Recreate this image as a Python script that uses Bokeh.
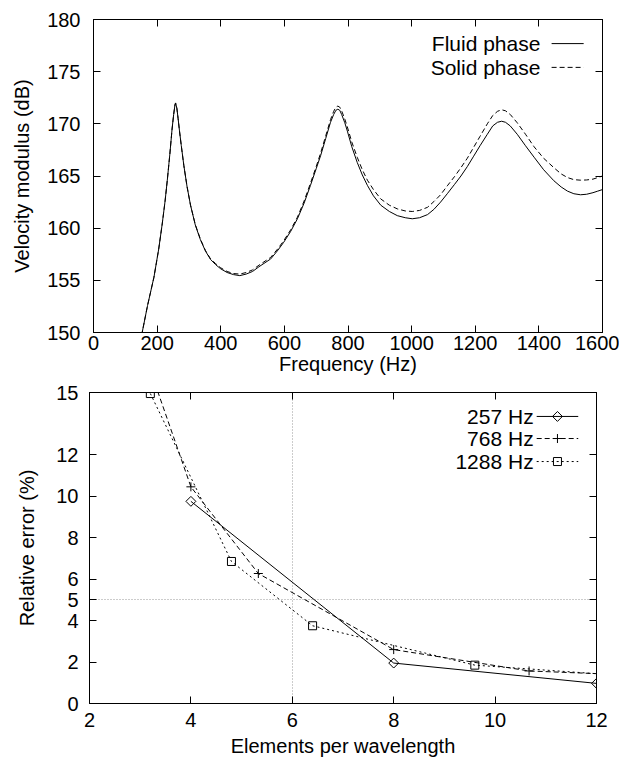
from bokeh.plotting import figure
from bokeh.layouts import column, row
from bokeh.models import LinearAxis, FixedTicker, Range1d, Label
from bokeh.embed import file_html
from bokeh.resources import INLINE

FONT = "Liberation Sans"
TICK_FS = "20px"
TITLE_FS = "20px"
LEG_FS = "21px"

# ---------------- data: top chart ----------------
freq = [140, 153, 170, 190, 205, 216, 225, 232, 240, 247, 252, 256, 258, 262, 266,
        270, 276, 284, 294, 305, 320, 336, 352, 368, 384, 400, 420, 440, 460, 480,
        500, 520, 557, 580, 598, 620, 641, 662, 682, 700, 714, 730, 745, 755, 762,
        768, 774, 780, 790, 798, 812, 829, 845, 861, 880, 903, 930, 955, 980, 1002,
        1025, 1050, 1070, 1091, 1112, 1135, 1155, 1175, 1195, 1215, 1238, 1255, 1270,
        1283, 1295, 1310, 1332, 1358, 1385, 1415, 1447, 1470, 1490, 1510, 1531, 1550,
        1570, 1585, 1600]
fluid_db = [148.2, 150.0, 152.6, 155.3, 158.0, 160.4, 162.6, 164.6, 167.1, 169.5,
            170.9, 171.8, 172.0, 171.5, 170.5, 169.4, 167.9, 166.0, 164.0, 162.2,
            160.3, 158.9, 157.8, 157.0, 156.5, 156.1, 155.75, 155.55, 155.45, 155.6,
            155.85, 156.3, 157.05, 157.9, 158.65, 159.7, 160.9, 162.4, 164.1, 165.7,
            166.96, 168.6, 170.15, 170.9, 171.3, 171.4, 171.3, 170.9, 170.1, 169.3,
            167.8, 166.3, 165.1, 164.1, 163.1, 162.2, 161.6, 161.2, 161.0, 160.9,
            161.0, 161.3, 161.8, 162.5, 163.3, 164.2, 165.0, 165.9, 166.9, 167.9,
            169.0, 169.8, 170.15, 170.25, 170.15, 169.8, 169.0, 167.9, 166.8, 165.6,
            164.55, 163.95, 163.55, 163.3, 163.2, 163.25, 163.4, 163.55, 163.7]
solid_db = [148.2, 150.0, 152.6, 155.3, 158.0, 160.4, 162.6, 164.6, 167.1, 169.5,
            170.9, 171.8, 172.0, 171.5, 170.5, 169.4, 167.9, 166.0, 164.0, 162.2,
            160.35, 158.95, 157.85, 157.05, 156.6, 156.2, 155.85, 155.65, 155.6, 155.75,
            156.0, 156.45, 157.2, 158.05, 158.8, 159.85, 161.05, 162.6, 164.3, 165.9,
            167.2, 168.85, 170.4, 171.2, 171.6, 171.7, 171.6, 171.25, 170.45, 169.7,
            168.25, 166.8, 165.6, 164.6, 163.7, 162.8, 162.2, 161.85, 161.65, 161.6,
            161.7, 162.0, 162.55, 163.2, 164.05, 164.95, 165.8, 166.7, 167.75, 168.8,
            170.0, 170.8, 171.2, 171.35, 171.25, 170.9, 170.1, 169.0, 167.8, 166.7,
            165.8, 165.2, 164.85, 164.65, 164.6, 164.62, 164.7, 164.85, 165.0]
freq_ticks = [0, 200, 400, 600, 800, 1000, 1200, 1400, 1600]
db_ticks = [150, 155, 160, 165, 170, 175, 180]

# ---------------- data: bottom chart ----------------
epw_257 = [4.0, 8.0, 12.0]
err_257 = [9.75, 1.95, 0.97]
epw_768 = [2.67, 4.0, 5.33, 8.0, 10.67, 16.0]
err_768 = [19.8, 10.45, 6.27, 2.6, 1.57, 1.05]
epw_1288 = [3.2, 4.8, 6.4, 9.6, 12.8]
err_1288 = [14.95, 6.85, 3.75, 1.85, 1.3]
epw_ticks = [2, 4, 6, 8, 10, 12]
err_ticks = [0, 2, 4, 5, 6, 8, 10, 12, 15]


def style_axis(ax, labels=True):
    ax.major_tick_in = 7
    ax.major_tick_out = 0
    ax.minor_tick_in = 0
    ax.minor_tick_out = 0
    ax.axis_line_color = "black"
    ax.major_tick_line_color = "black"
    ax.major_label_text_font = FONT
    ax.major_label_text_color = "black"
    ax.major_label_text_font_size = TICK_FS if labels else "0px"
    if not labels:
        ax.major_label_standoff = 0
    ax.axis_label_text_font = FONT
    ax.axis_label_text_font_size = TITLE_FS
    ax.axis_label_text_font_style = "normal"
    ax.axis_label_text_color = "black"


def frac(r, f):
    return r.start + f * (r.end - r.start)


# ================= top figure =================
p1 = figure(width=619, height=380, output_backend="svg", toolbar_location=None,
            x_range=Range1d(0, 1600), y_range=Range1d(150, 180),
            min_border_left=93, min_border_right=17, min_border_top=19,
            min_border_bottom=48)
p1.outline_line_color = "black"
p1.outline_line_alpha = 1
p1.xgrid.grid_line_color = None
p1.ygrid.grid_line_color = None

p1.xaxis.ticker = FixedTicker(ticks=freq_ticks)
p1.yaxis.ticker = FixedTicker(ticks=db_ticks)
p1.xaxis.axis_label = "Frequency (Hz)"
p1.yaxis.axis_label = "Velocity modulus (dB)"
style_axis(p1.xaxis[0])
style_axis(p1.yaxis[0])
p1.xaxis.major_label_standoff = 3
p1.xaxis.axis_label_standoff = 0
p1.yaxis.major_label_standoff = 13
p1.yaxis.axis_label_standoff = 11

top1 = LinearAxis(ticker=FixedTicker(ticks=freq_ticks))
style_axis(top1, labels=False)
p1.add_layout(top1, "above")
right1 = LinearAxis(ticker=FixedTicker(ticks=db_ticks))
style_axis(right1, labels=False)
p1.add_layout(right1, "right")

p1.line(freq, fluid_db, line_color="black", line_width=1)
p1.line(freq, solid_db, line_color="black", line_width=1, line_dash="5 3")

# legend (gnuplot style: text right-aligned, sample to its right)
xr, yr = p1.x_range, p1.y_range
for name, dash, fy in [("Fluid phase", "solid", 0.923), ("Solid phase", "5 3", 0.847)]:
    yy = frac(yr, fy)
    p1.add_layout(Label(x=frac(xr, 0.878), y=yy, text=name, text_align="right",
                        text_baseline="middle", text_font=FONT,
                        text_font_size=LEG_FS, text_color="black"))
    p1.line([frac(xr, 0.90), frac(xr, 0.963)], [yy, yy], line_color="black",
            line_width=1, line_dash=dash)

# ================= bottom figure =================
p2 = figure(width=619, height=381, output_backend="svg", toolbar_location=None,
            x_range=Range1d(2, 12), y_range=Range1d(0, 15),
            min_border_left=89, min_border_right=23, min_border_top=12,
            min_border_bottom=58)
p2.outline_line_color = "black"
p2.outline_line_alpha = 1
p2.xaxis.ticker = FixedTicker(ticks=epw_ticks)
p2.yaxis.ticker = FixedTicker(ticks=err_ticks)
p2.xaxis.axis_label = "Elements per wavelength"
p2.yaxis.axis_label = "Relative error (%)"
style_axis(p2.xaxis[0])
style_axis(p2.yaxis[0])
p2.xaxis.major_label_standoff = 9
p2.xaxis.axis_label_standoff = 5
p2.yaxis.major_label_standoff = 11
p2.yaxis.axis_label_standoff = 15

top2 = LinearAxis(ticker=FixedTicker(ticks=epw_ticks))
style_axis(top2, labels=False)
p2.add_layout(top2, "above")
right2 = LinearAxis(ticker=FixedTicker(ticks=err_ticks))
style_axis(right2, labels=False)
p2.add_layout(right2, "right")

p2.xgrid.ticker = FixedTicker(ticks=[6])
p2.ygrid.ticker = FixedTicker(ticks=[5])
p2.grid.grid_line_color = "#999999"
p2.grid.grid_line_dash = "1 2"
p2.grid.grid_line_width = 1

series = [
    ("257 Hz", epw_257, err_257, "solid", "square", 0.785, 7),
    ("768 Hz", epw_768, err_768, "5 3", "cross", 0.0, 9),
    ("1288 Hz", epw_1288, err_1288, "2 3", "square", 0.0, 8),
]
xr2, yr2 = p2.x_range, p2.y_range
leg_y = [0.923, 0.852, 0.778]
for (name, xs, ys, dash, mk, ang, sz), fy in zip(series, leg_y):
    p2.line(xs, ys, line_color="black", line_width=1, line_dash=dash)
    p2.scatter(xs, ys, marker=mk, angle=ang, size=sz, fill_color=None,
               line_color="black", line_width=1)
    yy = frac(yr2, fy)
    p2.add_layout(Label(x=frac(xr2, 0.876), y=yy, text=name, text_align="right",
                        text_baseline="middle", text_font=FONT,
                        text_font_size=LEG_FS, text_color="black"))
    p2.line([frac(xr2, 0.882), frac(xr2, 0.964)], [yy, yy], line_color="black",
            line_width=1, line_dash=dash)
    p2.scatter([frac(xr2, 0.923)], [yy], marker=mk, angle=ang, size=sz,
               fill_color=None, line_color="black", line_width=1)

layout = column(row(p1), row(p2), spacing=0)
open("out.html", "w").write(file_html(layout, INLINE))
